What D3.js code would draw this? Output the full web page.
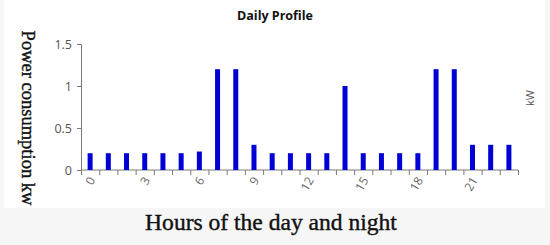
<!DOCTYPE html>
<html>
<head>
<meta charset="utf-8">
<script src="https://cdn.jsdelivr.net/npm/d3@7"></script>
<style>
  html, body { margin: 0; padding: 0; background: #fff; }
  svg { display: block; }
</style>
</head>
<body>
<div id="chart"></div>
<script>
// Daily profile data, one bar per hour
const hours = d3.range(0, 24);
const powerKw = [0.2, 0.2, 0.2, 0.2, 0.2, 0.2, 0.22, 1.2, 1.2, 0.3, 0.2, 0.2,
                 0.2, 0.2, 1.0, 0.2, 0.2, 0.2, 0.2, 1.2, 1.2, 0.3, 0.3, 0.3];
const hourLabels = [0, 3, 6, 9, 12, 15, 18, 21];
const yTicks = [0, 0.5, 1, 1.5];

const width = 550, height = 245;
const margin = { top: 44, right: 32, bottom: 75, left: 81 };

const svg = d3.select('#chart').append('svg')
  .attr('width', width)
  .attr('height', height);

// faint grey page behind the white plot panel
svg.append('rect').attr('width', width).attr('height', height).attr('fill', '#f6f6f6');
svg.append('rect').attr('x', 4).attr('y', 0).attr('width', 541).attr('height', 208).attr('fill', '#fff');

// scales
const x = d3.scaleLinear().domain([0, 24]).range([margin.left, width - margin.right]);
const y = d3.scaleLinear().domain([0, 1.5]).range([height - margin.bottom, margin.top]);

const axisColor = '#7a7a7a';
const tickFont = '"Open Sans", "Noto Sans", sans-serif';

// y axis
const yAxis = svg.append('g')
  .attr('transform', `translate(${margin.left},0)`)
  .call(d3.axisLeft(y).tickValues(yTicks).tickSize(4).tickPadding(5)
    .tickFormat(d3.format('')));
yAxis.select('.domain').attr('stroke', axisColor);
yAxis.selectAll('.tick line').attr('stroke', axisColor);
yAxis.selectAll('text').attr('fill', '#555').style('font-family', tickFont).style('font-size', '12.5px');

// x axis: tick marks on hour boundaries
const xAxis = svg.append('g')
  .attr('transform', `translate(0,${y(0)})`)
  .call(d3.axisBottom(x).tickValues(d3.range(0, 25)).tickSize(5).tickFormat(''));
xAxis.select('.domain').attr('stroke', axisColor).attr('d', `M${x(0)},0H${x(24)}`);
xAxis.selectAll('.tick line').attr('stroke', axisColor);

// hour labels centred under bars, rotated
svg.append('g').selectAll('text')
  .data(hourLabels)
  .join('text')
  .attr('transform', (d) => `translate(${x(d + 0.5) + 2},${y(0) + 8}) rotate(-60)`)
  .attr('text-anchor', 'end')
  .attr('dy', '0.35em')
  .attr('fill', '#666')
  .style('font-family', tickFont)
  .style('font-size', '12px')
  .text((d) => d);

// bars
const barW = 5;
svg.append('g').selectAll('rect')
  .data(hours)
  .join('rect')
  .attr('x', (h) => x(h + 0.5) - barW / 2)
  .attr('y', (h) => y(powerKw[h]))
  .attr('width', barW)
  .attr('height', (h) => y(0) - y(powerKw[h]))
  .attr('fill', '#0000d6');

// title
svg.append('text')
  .attr('x', 275)
  .attr('y', 20)
  .attr('text-anchor', 'middle')
  .style('font-family', tickFont)
  .style('font-size', '12.5px')
  .style('font-weight', 'bold')
  .attr('fill', '#111')
  .text('Daily Profile');

// right unit label
svg.append('text')
  .attr('transform', 'translate(530,98) rotate(-90)')
  .attr('text-anchor', 'middle')
  .attr('dy', '0.35em')
  .style('font-family', tickFont)
  .style('font-size', '11px')
  .attr('fill', '#555')
  .text('kW');

// scale serif text so it spans the wanted length
function fitText(sel, len) {
  const w = sel.node().getComputedTextLength();
  const fs = parseFloat(sel.style('font-size'));
  sel.style('font-size', (fs * len / w) + 'px');
}

const serif = '"Liberation Serif", "DejaVu Serif", serif';

const yTitle = svg.append('text')
  .attr('transform', 'translate(22,118) rotate(90)')
  .attr('text-anchor', 'middle')
  .style('font-family', serif)
  .style('font-size', '18px')
  .attr('fill', '#111')
  .attr('stroke', '#111')
  .attr('stroke-width', 0.4)
  .text('Power consumption kw');
fitText(yTitle, 175);

const xTitle = svg.append('text')
  .attr('x', 271)
  .attr('y', 230)
  .attr('text-anchor', 'middle')
  .style('font-family', serif)
  .style('font-size', '22px')
  .attr('fill', '#111')
  .attr('stroke', '#111')
  .attr('stroke-width', 0.4)
  .text('Hours of the day and night');
fitText(xTitle, 252);
</script>
</body>
</html>
